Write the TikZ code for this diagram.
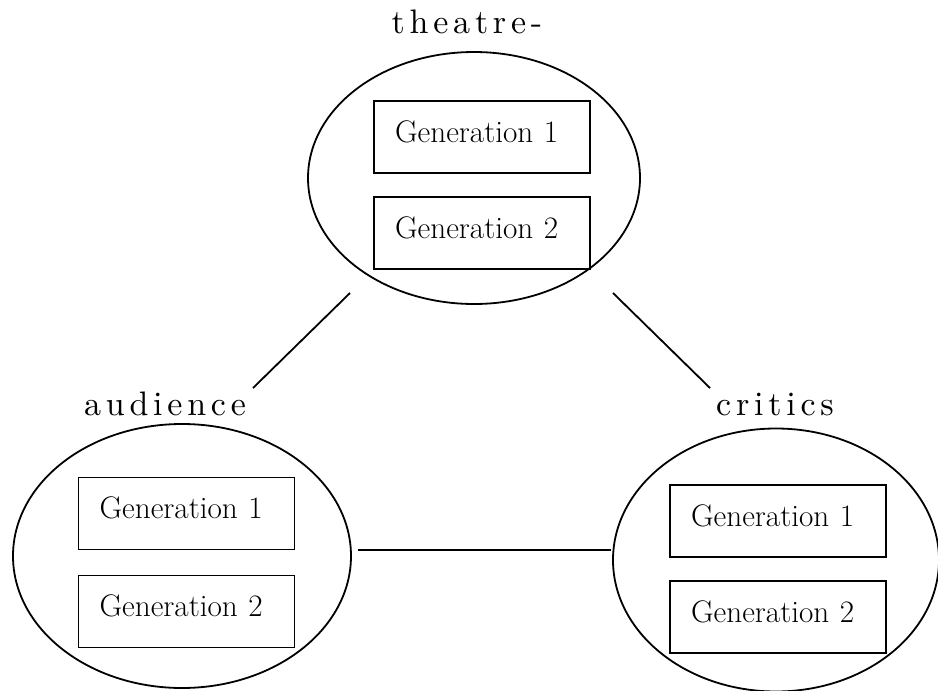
\documentclass[tikz,border=0pt]{standalone}
\usepackage{fontspec}
\newfontfamily\labelfont{lmroman10-regular}[Extension=.otf, LetterSpace=14]
\usetikzlibrary{shapes.geometric}
\tikzset{
  group/.style={draw, ellipse, line width=0.9pt, inner sep=0pt},
  genbox/.style={draw, rectangle, line width=0.8pt, minimum width=108pt, minimum height=36pt,
    text width=87pt, align=left, inner xsep=10.5pt, inner ysep=0pt,
    text height=10.5pt, text depth=5.5pt, font=\fontsize{15.6pt}{18pt}\selectfont},
  grouplabel/.style={anchor=base, font=\fontsize{17pt}{20pt}\selectfont\labelfont},
  link/.style={line width=0.9pt}
}

\begin{document}
\begin{tikzpicture}[x=0.5pt, y=-0.5pt]
			%%%%% START %%%%%
			\useasboundingbox (0, 0) rectangle (938, 691);
			
			% theatre
			\node[group, minimum width=166pt, minimum height=126pt] (theatre) at (474, 178) {};
			\node[genbox] (theatre1) at (482, 137) {Generation 1};
			\node[genbox] (theatre2) at (482, 233) {Generation 2};
			\node[grouplabel] (theatrelbl) at (467, 33) {theatre-};
			
			% audience
			\node[group, minimum width=169pt, minimum height=132pt] (audience) at (182, 556) {};
			\node[genbox] (audience1) at (186.5, 513.5) {Generation 1};
			\node[genbox] (audience2) at (186.5, 611.5) {Generation 2};
			\node[grouplabel] (audiencelbl) at (165, 415) {audience};
			
			% critics
			\node[group, minimum width=163pt, minimum height=131.5pt] (critics) at (776, 560) {};
			\node[genbox] (critics1) at (778, 521) {Generation 1};
			\node[genbox] (critics2) at (778, 617) {Generation 2};
			\node[grouplabel] (criticslbl) at (775, 415) {critics};
			
			% links
			\coordinate (ta1) at (350, 293);
			\coordinate (ta2) at (253, 388);
			\coordinate (tc1) at (613, 293);
			\coordinate (tc2) at (710, 388);
			\coordinate (ac1) at (358, 550);
			\coordinate (ac2) at (611, 550);
			\draw[link] (ta1) -- (ta2);
			\draw[link] (tc1) -- (tc2);
			\draw[link] (ac1) -- (ac2);
			
			%%%%% END %%%%%
\end{tikzpicture}
\end{document}
